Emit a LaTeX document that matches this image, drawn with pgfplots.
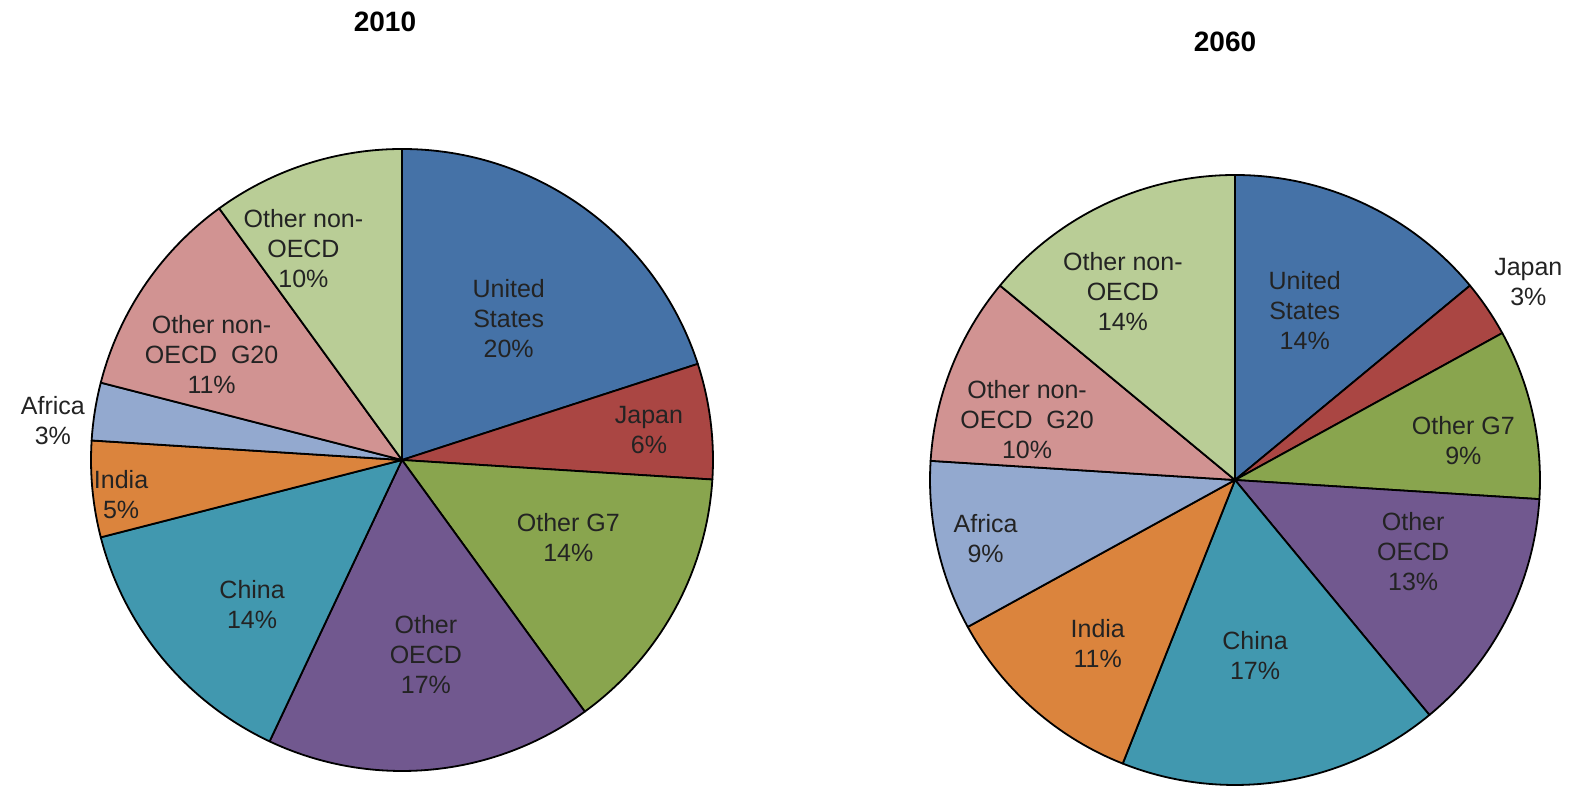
\documentclass[border=0pt]{standalone}
\usepackage{pgfplots}
\usepackage{pgfplotstable}
\pgfplotsset{compat=1.18}
\usepackage{fontspec}
\setmainfont{Liberation Sans}

\definecolor{cUS}{RGB}{69,114,167}
\definecolor{cJP}{RGB}{170,70,67}
\definecolor{cG7}{RGB}{137,165,78}
\definecolor{cOE}{RGB}{113,88,143}
\definecolor{cCN}{RGB}{65,152,175}
\definecolor{cIN}{RGB}{219,132,61}
\definecolor{cAF}{RGB}{147,169,207}
\definecolor{cG20}{RGB}{209,147,146}
\definecolor{cNO}{RGB}{185,205,150}
\definecolor{txt}{RGB}{35,35,35}

% share in %, label angle, label distance (fraction of radius), colour
\pgfplotstableread[col sep=comma]{
name,share,langle,lrad,col
{United\\States},20,53,0.57,cUS
{Japan},6,7,0.80,cJP
{Other G7},14,-25,0.59,cG7
{Other\\OECD},17,-83,0.63,cOE
{China},14,-136,0.67,cCN
{India},5,-173,0.91,cIN
{Africa},3,173.5,1.13,cAF
{Other non-\\OECD\ \ G20},11,151,0.70,cG20
{Other non-\\OECD},10,115,0.75,cNO
}\pieA

\pgfplotstableread[col sep=comma]{
name,share,langle,lrad,col
{United\\States},14,67.6,0.60,cUS
{Japan},3,34,1.16,cJP
{Other G7},9,9.9,0.76,cG7
{Other\\OECD},13,-22,0.63,cOE
{China},17,-83.5,0.58,cCN
{India},11,-130,0.70,cIN
{Africa},9,-166.8,0.84,cAF
{Other non-\\OECD\ \ G20},10,163.8,0.71,cG20
{Other non-\\OECD},14,120.7,0.72,cNO
}\pieB

% #1 table, #2 #3 centre (axis units), #4 radius (length)
\newcommand\drawpie[4]{%
  \pgfplotstablegetrowsof{#1}%
  \pgfmathtruncatemacro\lastrow{\pgfplotsretval-1}%
  \gdef\startangle{90}%
  \foreach \r in {0,...,\lastrow}{%
    \pgfplotstablegetelem{\r}{share}\of{#1}\let\sh\pgfplotsretval
    \pgfplotstablegetelem{\r}{col}\of{#1}\let\cl\pgfplotsretval
    \pgfmathsetmacro\endangle{\startangle-3.6*\sh}%
    \filldraw[fill=\cl, draw=black, line width=0.9pt, line join=round]
      (axis cs:#2,#3) -- ++(\startangle:#4)
      arc[start angle=\startangle, end angle=\endangle, radius=#4] -- cycle;
    \xdef\startangle{\endangle}%
  }%
  \foreach \r in {0,...,\lastrow}{%
    \pgfplotstablegetelem{\r}{share}\of{#1}\let\sh\pgfplotsretval
    \pgfplotstablegetelem{\r}{name}\of{#1}\let\nm\pgfplotsretval
    \pgfplotstablegetelem{\r}{langle}\of{#1}\let\la\pgfplotsretval
    \pgfplotstablegetelem{\r}{lrad}\of{#1}\let\lr\pgfplotsretval
    \pgfmathsetlengthmacro\lrlen{\lr*#4}%
    \path (axis cs:#2,#3) ++(\la:\lrlen)
      node[align=center, text=txt, font=\fontsize{12.5}{15}\selectfont, inner sep=0pt] {\nm\\\sh\%};
  }%
}

\begin{document}
\begin{tikzpicture}
\begin{axis}[
  x=0.5pt, y=0.5pt,
  xmin=0, xmax=1570, ymin=0, ymax=787,
  hide axis, clip=false,
]
\pgfplotsextra{\drawpie{\pieA}{402}{327}{155.5pt}}
\pgfplotsextra{\drawpie{\pieB}{1235}{307}{152.5pt}}
\node[font=\fontsize{14}{16}\selectfont\bfseries] at (axis cs:385,765) {2010};
\node[font=\fontsize{14}{16}\selectfont\bfseries] at (axis cs:1225,745) {2060};
\coordinate (bl) at (axis cs:0,0);
\coordinate (tr) at (axis cs:1570,787);
\end{axis}
\pgfresetboundingbox
\useasboundingbox (bl) rectangle (tr);
\end{tikzpicture}
\end{document}
